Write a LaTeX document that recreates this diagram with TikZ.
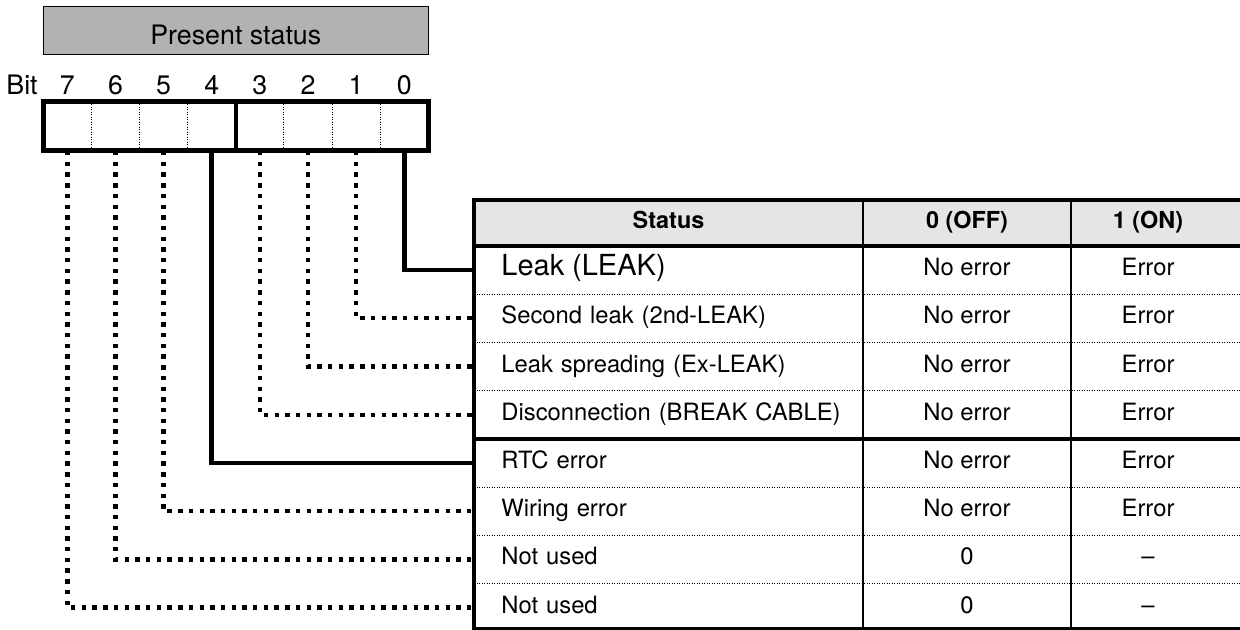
\documentclass[tikz,border=0pt]{standalone}
\usepackage{fontspec}
\setmainfont{TeX Gyre Heros}
\definecolor{titlegray}{gray}{0.70}
\definecolor{headgray}{gray}{0.90}
\newcommand{\bigleak}{\fontsize{14.5}{16}\selectfont}
\tikzset{
  thickline/.style={line width=2.3pt},
  thinline/.style={line width=0.6pt},
  finedots/.style={line width=0.5pt, dash pattern=on 0.5pt off 0.75pt},
  solidlink/.style={line width=2.3pt},
  dotlink/.style={line width=2.2pt, dash pattern=on 2.2pt off 3.15pt},
  bitcell/.style={minimum width=24.06pt, minimum height=24.5pt, inner sep=0pt},
  bignum/.style={font=\fontsize{13.4}{15}\selectfont, anchor=base, inner sep=0pt},
  cell/.style={font=\fontsize{11.9}{13}\selectfont, text height=0.75em, text depth=0.2em, inner sep=0pt},
  statcell/.style={cell, anchor=west, text width=180pt, inner xsep=13.5pt, align=left, minimum height=24.1pt},
  headcell/.style={cell, font=\fontsize{11.7}{13}\selectfont\bfseries},
}
\begin{document}
\begin{tikzpicture}[x=0.5pt, y=-0.5pt]
        \useasboundingbox (0,0) rectangle (1240,630);

        % present status
        \draw[thinline, fill=titlegray] (43.3,6.7) rectangle (428.3,54.3);
        \node[bignum] (title) at (235.8,45) {Present status};

        % bit register
        \node[bignum, anchor=base west] (bitlbl) at (6,95) {Bit};
        \foreach \b in {0,...,7} {
          \pgfmathsetmacro{\bx}{67.4+48.125*(7-\b)}
          \node[bignum] (n\b) at (\bx,95) {\b};
          \node[bitcell] (b\b) at (\bx,126.2) {};
        }
        \foreach \xx in {91.4,139.5,187.6,283.9,332,380.1}
          \draw[finedots] (\xx,101.7) -- (\xx,150.7);
        \draw[thickline] (43.3,101.7) rectangle (428.3,150.7);
        \draw[thickline] (235.8,101.7) -- (235.8,150.7);

        % table header
        \fill[headgray] (474,200) rectangle (1245,246);
        \node[headcell] (hs) at (668.5,223) {Status};
        \node[headcell] (h0) at (967,223) {0 (OFF)};
        \node[headcell] (h1) at (1148,223) {1 (ON)};

        % table rows
        \foreach \st/\off/\on [count=\i from 0] in {
            \bigleak Leak (LEAK)/No error/Error,
            Second leak (2nd-LEAK)/No error/Error,
            Leak spreading (Ex-LEAK)/No error/Error,
            Disconnection (BREAK CABLE)/No error/Error,
            RTC error/No error/Error,
            Wiring error/No error/Error,
            Not used/0/--,
            Not used/0/--} {
          \pgfmathsetmacro{\ry}{270.1+48.2*\i}
          \node[statcell] (r\i) at (474,\ry) {\st};
          \node[cell] (c\i) at (967,\ry) {\off};
          \node[cell] (d\i) at (1148,\ry) {\on};
        }
        \foreach \i in {1,2,3,5,6,7}
          \draw[finedots] (474,{246+48.2*\i}) -- (1245,{246+48.2*\i});
        \draw[thinline] (863,200) -- (863,629);
        \draw[thinline] (1071,200) -- (1071,629);
        \draw[thickline] (474,246) -- (1245,246);
        \draw[thickline] (474,438.8) -- (1245,438.8);
        \draw[thickline] (1245,200) -- (474,200) -- (474,629) -- (1245,629);

        % bit connectors
        \foreach \b in {0,4}
          \draw[solidlink] (b\b.south) |- (r\b.west);
        \foreach \b in {1,2,3,5,6,7}
          \draw[dotlink] (b\b.south) |- (r\b.west);
      \end{tikzpicture}
\end{document}
